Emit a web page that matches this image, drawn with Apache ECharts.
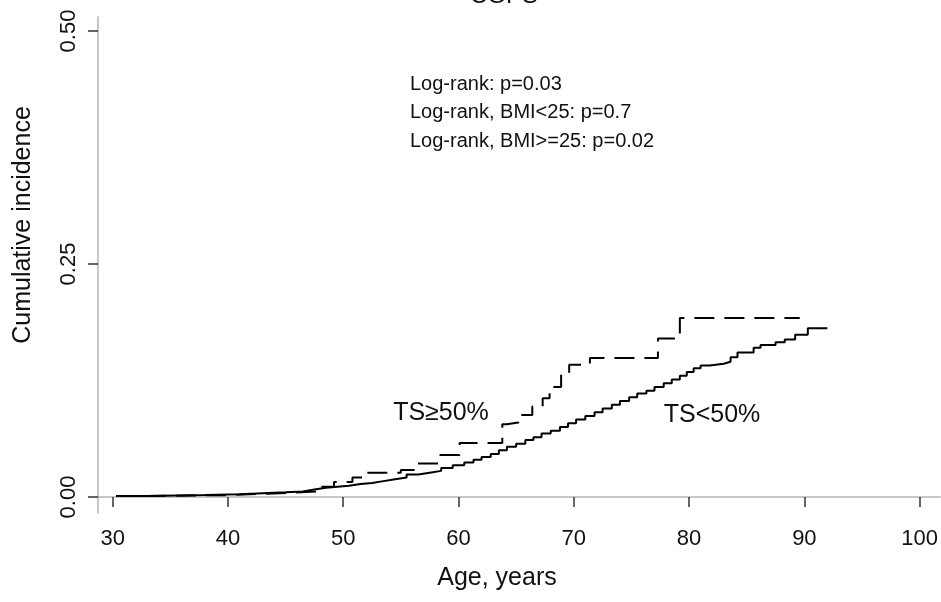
<!DOCTYPE html>
<html>
<head>
<meta charset="utf-8">
<script src="https://cdn.jsdelivr.net/npm/echarts@6/dist/echarts.min.js"></script>
<style>
  html, body { margin: 0; padding: 0; background: #fff; }
  #main { width: 941px; height: 602px; }
</style>
</head>
<body>
<div id="main"></div>
<script>
// TS<50% (solid line) - age at each step, cumulative incidence after the step
var lowAge = [30.3, 33, 38, 41, 43, 45, 46.5, 47.5, 48.5, 49.5, 50.5, 51.5, 52.5, 53.5, 54.5, 55.5, 56.5, 57.5, 58.5, 59.5,
  60.5, 61.3, 62, 62.8, 63.5, 64.2, 65, 65.8, 66.5, 67.2, 68, 68.8, 69.5, 70.2, 71, 71.8, 72.5, 73.3, 74, 74.8,
  75.5, 76.3, 77, 77.8, 78.5, 79.2, 79.8, 80.4, 81, 81.8, 83, 83.6, 84.2, 85.6, 86.2, 87.5, 88.3, 89.2, 90.3, 92.0]
var lowInc = [0.001, 0.002, 0.003, 0.004, 0.005, 0.006, 0.008, 0.010, 0.011, 0.012, 0.014, 0.015, 0.017, 0.019, 0.021, 0.024, 0.026, 0.028, 0.031, 0.034,
  0.037, 0.040, 0.043, 0.046, 0.050, 0.054, 0.057, 0.061, 0.064, 0.068, 0.071, 0.075, 0.079, 0.083, 0.087, 0.091, 0.095, 0.099, 0.103, 0.107,
  0.111, 0.114, 0.118, 0.122, 0.126, 0.130, 0.134, 0.138, 0.141, 0.143, 0.145, 0.150, 0.155, 0.160, 0.163, 0.166, 0.169, 0.174, 0.181, 0.181]

// TS>=50% (dashed line)
var highAge = [30.3, 32.6, 40, 44.5, 47.8, 49.2, 50.8, 52.0, 55.0, 56.2, 58.4, 60.1, 63.8, 64.2, 65.2, 66.4, 67.3, 67.9, 68.9, 69.6, 71.4, 77.3, 79.2, 89.6]
var highInc = [0.001, 0.002, 0.004, 0.006, 0.011, 0.016, 0.021, 0.026, 0.029, 0.036, 0.045, 0.058, 0.078, 0.080, 0.088, 0.097, 0.106, 0.118, 0.133, 0.142, 0.149, 0.170, 0.192, 0.192]

var xTicks = [30, 40, 50, 60, 70, 80, 90, 100]
var yTicks = [0, 0.25, 0.5]
var pLines = ['Log-rank: p=0.03', 'Log-rank, BMI<25: p=0.7', 'Log-rank, BMI>=25: p=0.02']

var font = 'Liberation Sans, Arial, sans-serif'
var narrow = 'Liberation Sans Narrow, Liberation Sans, Arial, sans-serif'

function pairs(a, b) {
  return a.map(function (v, i) { return [v, b[i]] })
}

var myChart = echarts.init(document.getElementById('main'))
myChart.setOption({
  animation: false,
  backgroundColor: '#fff',
  grid: { left: 98, right: 0, top: 17, bottom: 89 },
  xAxis: {
    type: 'value',
    min: 28.73,
    max: 101.78,
    axisLine: { lineStyle: { color: '#b4b4b4', width: 1.5 } },
    axisTick: { customValues: xTicks, length: 10, lineStyle: { color: '#333', width: 1.5 } },
    axisLabel: { customValues: xTicks, margin: 15, color: '#111', fontSize: 22, fontFamily: narrow },
    splitLine: { show: false }
  },
  yAxis: {
    type: 'value',
    min: -0.0172,
    max: 0.515,
    axisLine: { show: true, lineStyle: { color: '#b4b4b4', width: 1.5 } },
    axisTick: { show: true, customValues: yTicks, length: 10, lineStyle: { color: '#333', width: 1.5 } },
    axisLabel: {
      customValues: yTicks, rotate: 90, margin: 18, color: '#111', fontSize: 22, fontFamily: narrow,
      formatter: function (v) { return v.toFixed(2) }
    },
    splitLine: { show: false }
  },
  graphic: [
    { type: 'text', x: 504, y: 8, style: { text: 'CGPS', font: '24px ' + font, fill: '#111', textAlign: 'center', textVerticalAlign: 'bottom' } },
    { type: 'text', x: 410, y: 70, style: { text: pLines.join('\n'), font: '20px ' + font, lineHeight: 28.5, fill: '#111' } },
    { type: 'text', x: 441, y: 413, style: { text: 'TS≥50%', font: '25px ' + font, fill: '#111', textAlign: 'center', textVerticalAlign: 'middle' } },
    { type: 'text', x: 712, y: 415, style: { text: 'TS<50%', font: '25px ' + font, fill: '#111', textAlign: 'center', textVerticalAlign: 'middle' } },
    { type: 'text', x: 497, y: 578, style: { text: 'Age, years', font: '25px ' + font, fill: '#111', textAlign: 'center', textVerticalAlign: 'middle' } },
    { type: 'text', x: 23, y: 225, rotation: Math.PI / 2, style: { text: 'Cumulative incidence', font: '25px ' + font, fill: '#111', textAlign: 'center', textVerticalAlign: 'middle' } }
  ],
  series: [
    {
      name: 'TS<50%',
      type: 'line',
      step: 'end',
      symbol: 'none',
      data: pairs(lowAge, lowInc),
      lineStyle: { color: '#000', width: 2 }
    },
    {
      name: 'TS≥50%',
      type: 'line',
      step: 'end',
      symbol: 'none',
      data: pairs(highAge, highInc),
      lineStyle: { color: '#000', width: 2, type: [20, 10] }
    }
  ]
})
</script>
</body>
</html>
